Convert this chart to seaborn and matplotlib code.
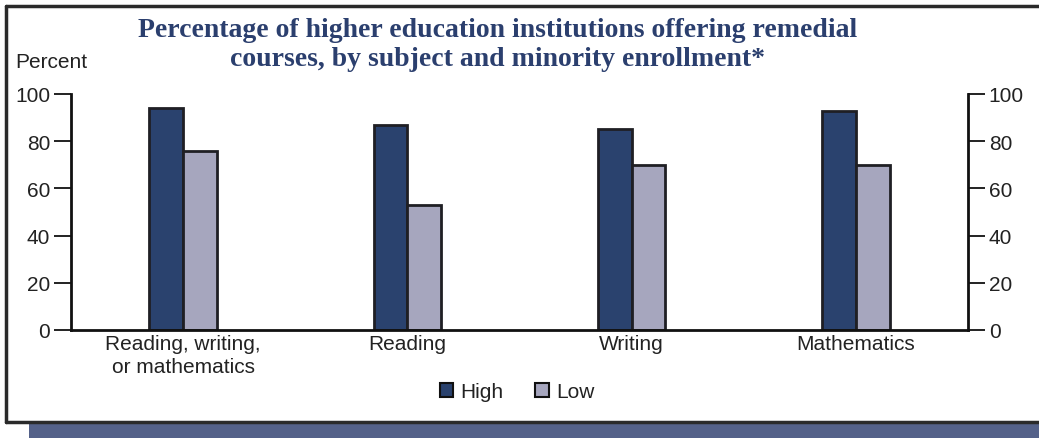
import matplotlib
matplotlib.use("Agg")
import matplotlib.pyplot as plt
from matplotlib.lines import Line2D
from matplotlib.patches import Rectangle
import seaborn as sns
import pandas as pd

subjects = ["Reading, writing,\nor mathematics", "Reading", "Writing", "Mathematics"]
high = [94, 87, 85, 93]
low = [76, 53, 70, 70]
groups = ["High", "Low"]
yticks = [0, 20, 40, 60, 80, 100]

df = pd.DataFrame({
    "subject": subjects * 2,
    "value": high + low,
    "enrollment": ["High"] * len(subjects) + ["Low"] * len(subjects),
})

sns.set_style("white")
plt.rcParams["font.family"] = ["Liberation Sans", "DejaVu Sans"]

fig = plt.figure(figsize=(10.39, 4.39), dpi=100)
ax = fig.add_axes([71 / 1039, 1 - 331 / 439, (968 - 71) / 1039, (331 - 95) / 439])

palette = {"High": "#2a426e", "Low": "#a6a6be"}
sns.barplot(data=df, x="subject", y="value", hue="enrollment", hue_order=groups,
            order=subjects, palette=palette, width=0.3, edgecolor="#1f1f24",
            linewidth=2, saturation=1, ax=ax, legend=False)

ax.set_xlim(-0.5, 3.5)
ax.set_ylim(0, 100)
ax.set_yticks(yticks)
ax.set_xlabel("")
ax.set_ylabel("")
for s in ["left", "right", "bottom"]:
    ax.spines[s].set_visible(True)
    ax.spines[s].set_color("#111111")
    ax.spines[s].set_linewidth(2)
ax.spines["top"].set_visible(False)

ax.tick_params(axis="y", which="both", left=True, right=True, labelleft=True,
               labelright=True, direction="out", length=12, width=1.3,
               color="#111111", labelsize=15, labelcolor="#222222", pad=3)
ax.tick_params(axis="x", length=0, labelsize=15, labelcolor="#222222", pad=3)
for lbl in ax.get_xticklabels():
    lbl.set_linespacing(1.25)

# figure furniture: title, unit label, legend
fig.text(0.479, 1 - 45 / 439,
         "Percentage of higher education institutions offering remedial\n"
         "courses, by subject and minority enrollment*",
         ha="center", va="center", fontsize=20, fontweight="bold",
         family="Liberation Serif", color="#2b3f6e", linespacing=1.25)
fig.text(15 / 1039, 1 - 63 / 439, "Percent", ha="left", va="center",
         fontsize=15, color="#222222")

handles = [Rectangle((0, 0), 1, 1, facecolor=palette[g], edgecolor="#111111",
                     linewidth=1.5) for g in groups]
fig.legend(handles, groups, loc="center", bbox_to_anchor=(517 / 1039, 1 - 393 / 439),
           ncol=2, frameon=False, fontsize=15, handlelength=0.65, handleheight=0.65,
           handletextpad=0.35, columnspacing=1.5, labelcolor="#222222")

# outer frame with shaded strip beneath
fig.add_artist(Rectangle((29 / 1039, 0), 1, 1 - 425 / 439, transform=fig.transFigure,
                         facecolor="#546189", edgecolor="none"))
fig.add_artist(Line2D([6 / 1039, 6 / 1039], [1 - 7 / 439, 1 - 423 / 439],
                      transform=fig.transFigure, color="#2a2a2a", linewidth=2.5))
fig.add_artist(Line2D([6 / 1039, 1], [1 - 7 / 439, 1 - 7 / 439],
                      transform=fig.transFigure, color="#2a2a2a", linewidth=2.5))
fig.add_artist(Line2D([6 / 1039, 1], [1 - 423 / 439, 1 - 423 / 439],
                      transform=fig.transFigure, color="#2a2a2a", linewidth=2.5))

fig.savefig("out.png", dpi=100)
